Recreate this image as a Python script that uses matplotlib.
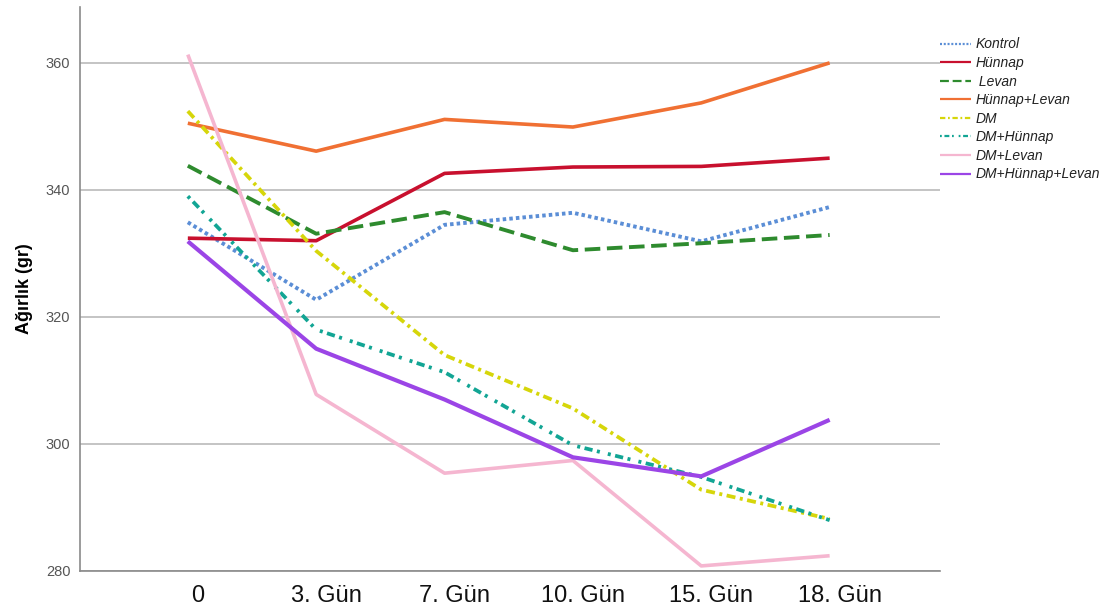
import matplotlib
matplotlib.use("Agg")
import matplotlib.pyplot as plt
import matplotlib.transforms as mtransforms

plt.rcParams['font.family'] = ['Liberation Sans', 'DejaVu Sans']

days = ["0", "3. Gün", "7. Gün", "10. Gün", "15. Gün", "18. Gün"]

kontrol = [334.9, 322.7, 334.5, 336.4, 331.9, 337.3]
hunnap = [332.4, 332.0, 342.6, 343.6, 343.7, 345.0]
levan = [343.8, 333.1, 336.5, 330.5, 331.6, 332.9]
hunnap_levan = [350.5, 346.1, 351.1, 349.9, 353.7, 360.0]
dm = [352.4, 330.4, 314.0, 305.6, 292.8, 288.2]
dm_hunnap = [339.0, 318.0, 311.3, 299.8, 294.8, 288.0]
dm_levan = [361.3, 307.8, 295.4, 297.4, 280.8, 282.4]
dm_hunnap_levan = [331.9, 315.0, 307.0, 297.9, 294.9, 303.8]

yticks = [280, 300, 320, 340, 360]

series = [
    ("Kontrol", kontrol, "#5b8ed6", (0, (0.9, 0.8)), 2.8),
    ("Hünnap", hunnap, "#c8102e", "-", 2.6),
    (" Levan", levan, "#2e8b2e", (0, (4, 1.7)), 2.8),
    ("Hünnap+Levan", hunnap_levan, "#f07033", "-", 2.6),
    ("DM", dm, "#d6d60a", (0, (2.4, 1.2, 0.8, 1.2)), 2.7),
    ("DM+Hünnap", dm_hunnap, "#12a594", (0, (0.8, 1.2, 2.2, 1.2, 0.8, 2.2)), 2.7),
    ("DM+Levan", dm_levan, "#f5b6d0", "-", 2.6),
    ("DM+Hünnap+Levan", dm_hunnap_levan, "#9b45e6", "-", 3.0),
]

fig = plt.figure(figsize=(11.05, 6.12), dpi=100)
ax = fig.add_axes([0.0724, 0.067, 0.7783, 0.9216])

x = list(range(len(days)))
for name, vals, color, ls, lw in series:
    ax.plot(x, vals, color=color, linestyle=ls, linewidth=lw, label=name,
            solid_capstyle='butt', dash_capstyle='butt')

ax.set_xlim(-0.84, 5.86)
ax.set_ylim(280, 368.8)
ax.set_yticks(yticks)
ax.set_xticks(x)
ax.set_xticklabels(days, fontsize=17, color="#111111")
ax.tick_params(axis='y', labelsize=10.5, labelcolor="#555555", length=0, pad=7)
ax.tick_params(axis='x', length=0, pad=10)
offset = mtransforms.ScaledTranslation(0.1, 0, fig.dpi_scale_trans)
for lab in ax.get_xticklabels():
    lab.set_transform(lab.get_transform() + offset)

ax.grid(axis='y', color="#c4c4c4", linewidth=1.4)
ax.set_axisbelow(True)
for s in ["top", "right"]:
    ax.spines[s].set_visible(False)
for s in ["left", "bottom"]:
    ax.spines[s].set_color("#8a8a8a")
    ax.spines[s].set_linewidth(1.2)

ax.set_ylabel("Ağırlık (gr)", fontsize=13, fontweight='bold', labelpad=9)

leg = fig.legend(loc="upper left", bbox_to_anchor=(0.846, 0.948), frameon=False,
                 prop={'size': 10, 'style': 'italic'}, handlelength=2.2,
                 handletextpad=0.3, labelspacing=0.33, borderaxespad=0)
for h in leg.get_lines():
    h.set_linewidth(1.6)
for t in leg.get_texts():
    t.set_color("#222222")

fig.savefig("out.png", dpi=100)
